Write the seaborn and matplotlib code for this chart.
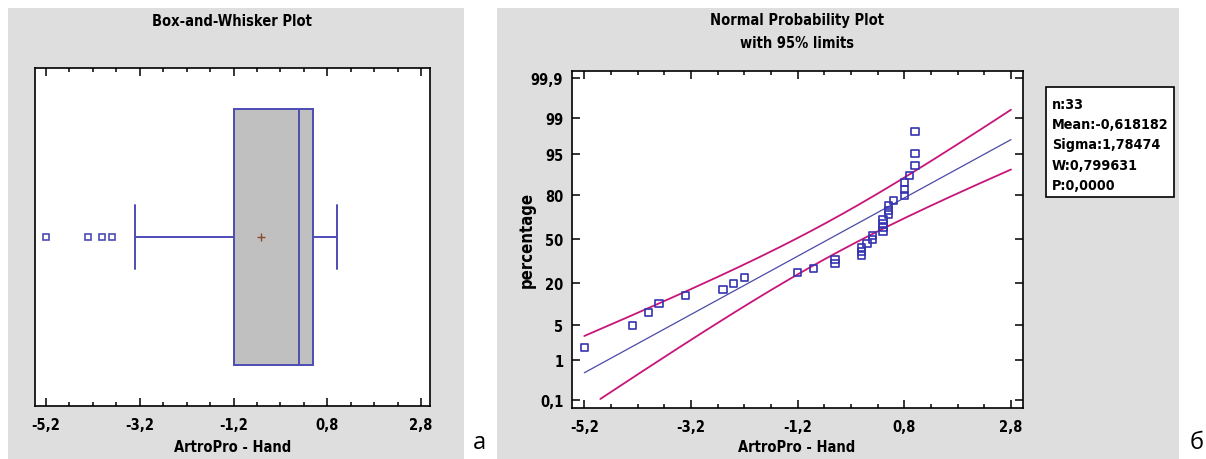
"""
Box-and-whisker plot and normal probability plot (95% limits)
for the ArtroPro - Hand sample, Statgraphics look.
"""

from statistics import NormalDist

import numpy as np
import matplotlib
matplotlib.use("Agg")
import matplotlib.pyplot as plt
from matplotlib import font_manager
from matplotlib.patches import Rectangle
from matplotlib.ticker import FixedLocator, FixedFormatter, NullLocator
import seaborn as sns

# ---- data ----------------------------------------------------------------
hand_values = [
    -5.2, -4.3, -4.0, -3.8, -3.3, -2.6, -2.4, -2.2, -1.2, -0.9, -0.5, -0.5,
    0.0, 0.0, 0.0, 0.1, 0.2, 0.2, 0.4, 0.4, 0.4, 0.4, 0.5, 0.5, 0.5, 0.6,
    0.8, 0.8, 0.8, 0.9, 1.0, 1.0, 1.0,
]
x_ticks = [-5.2, -3.2, -1.2, 0.8, 2.8]
x_tick_labels = ["-5,2", "-3,2", "-1,2", "0,8", "2,8"]
pct_ticks = [0.1, 1, 5, 20, 50, 80, 95, 99, 99.9]
pct_tick_labels = ["0,1", "1", "5", "20", "50", "80", "95", "99", "99,9"]
stats_lines = ["n:33", "Mean:-0,618182", "Sigma:1,78474", "W:0,799631", "P:0,0000"]

GRAY = "#dedede"
BOX_FILL = "#c0c0c0"
BLUE = "#4c4cb4"
PT_BLUE = "#3434b0"
FIT_BLUE = "#4a4aa8"
MAGENTA = "#c8157a"
BROWN = "#8b4a2a"

W, H = 1206, 460


def fx(px):
    return px / W


def fy(py):
    return 1 - py / H


_nd = NormalDist()
_ppf = np.vectorize(lambda p: _nd.inv_cdf(min(max(p, 1e-9), 1 - 1e-9)), otypes=[float])
_cdf = np.vectorize(_nd.cdf, otypes=[float])


def pct_to_z(p):
    return _ppf(np.asarray(p, dtype=float) / 100.0)


def z_to_pct(z):
    return _cdf(np.asarray(z, dtype=float)) * 100.0


sns.set_theme(style="white")

# Statgraphics uses a narrow bold sans; take a condensed face if one exists
main_font, stretch, scale = "Liberation Sans", "normal", 1.0
for f in font_manager.fontManager.ttflist:
    narrow_name = ("Narrow" in f.name or "Condensed" in f.name) and "Mono" not in f.name
    narrow_face = str(f.stretch) in ("condensed", "semi-condensed") and "Sans" in f.name \
        and "Mono" not in f.name and "CJK" not in f.name
    if narrow_name or narrow_face:
        main_font, scale = f.name, 1.0
        stretch = "condensed" if narrow_face and not narrow_name else "normal"
        if f.weight in ("bold", 700):
            break
else:
    scale = 0.95
FS = 10.5 * scale          # titles, ticks, axis labels
FS_STAT = 10.3 * scale     # stats box
FS_YLAB = 12 * scale       # "percentage"

plt.rcParams["font.family"] = [main_font, "DejaVu Sans"]
plt.rcParams["font.stretch"] = stretch
plt.rcParams["font.weight"] = "bold"
for key in ["text.color", "axes.labelcolor", "xtick.color", "ytick.color"]:
    plt.rcParams[key] = "black"

fig = plt.figure(figsize=(W / 100, H / 100), dpi=100)
fig.patch.set_facecolor("white")
for x0, x1 in [(8, 464), (497, 1179)]:
    fig.patches.append(Rectangle((fx(x0), 0), fx(x1) - fx(x0), (H - 9) / H,
                                 transform=fig.transFigure, facecolor=GRAY,
                                 edgecolor="none", zorder=-10))

minor_x = np.arange(-5.2, 2.81, 0.5)


def style_axis(ax):
    for sp in ax.spines.values():
        sp.set_visible(True)
        sp.set_color("black")
        sp.set_linewidth(1.2)
    ax.set_facecolor("white")
    ax.xaxis.set_major_locator(FixedLocator(x_ticks))
    ax.xaxis.set_major_formatter(FixedFormatter(x_tick_labels))
    ax.xaxis.set_minor_locator(FixedLocator(minor_x))
    ax.tick_params(axis="x", which="both", direction="in", top=True, bottom=True,
                   color="black", width=1.1, labelsize=FS, pad=8)
    ax.tick_params(axis="x", which="major", length=5.5)
    ax.tick_params(axis="x", which="minor", length=3)
    ax.set_xlabel("")
    ax.set_ylabel("")


# ---- left: box-and-whisker ------------------------------------------------
ax1 = fig.add_axes([fx(35), fy(407), fx(430) - fx(35), (407 - 69) / H])
sns.boxplot(
    x=hand_values, ax=ax1, orient="h", color=BOX_FILL, linecolor=BLUE,
    linewidth=1.4, width=0.8, saturation=1, showmeans=True, capwidths=0.2,
    meanprops=dict(marker="+", markeredgecolor=BROWN, markerfacecolor=BROWN,
                   markersize=6, markeredgewidth=1.0),
    flierprops=dict(marker="s", markerfacecolor="none", markeredgecolor=BLUE,
                    markersize=4.5, markeredgewidth=1.2),
)
ax1.set_xlim(-5.435, 2.992)
ax1.set_ylim(0.528, -0.528)
ax1.set_yticks([])
style_axis(ax1)

fig.text(fx(232), fy(22), "Box-and-Whisker Plot", ha="center", va="center",
         fontsize=FS, fontweight="bold")
fig.text(fx(233), fy(448), "ArtroPro - Hand", ha="center", va="center",
         fontsize=FS, fontweight="bold")

# ---- right: normal probability plot ---------------------------------------
ax2 = fig.add_axes([fx(571.7), fy(409.3), fx(1023) - fx(571.7), (409.3 - 71.7) / H])
ax2.set_yscale("function", functions=(pct_to_z, z_to_pct))

vals = np.sort(np.asarray(hand_values, dtype=float))
n = len(vals)
ranks = np.arange(1, n + 1)
plot_pos = (ranks - 0.375) / (n + 0.25) * 100
mean = vals.mean()
sd = vals.std(ddof=1)

grid = np.linspace(x_ticks[0], x_ticks[-1], 161)
z_fit = (grid - mean) / sd
half = 1.96 * np.sqrt(1 / n + z_fit ** 2 / (2 * n))
fit_pct = z_to_pct(z_fit)
upper_pct = z_to_pct(z_fit + half)
lower_pct = z_to_pct(z_fit - half)
lower_pct = np.where(lower_pct < pct_ticks[0], np.nan, lower_pct)

sns.lineplot(x=grid, y=fit_pct, ax=ax2, color=FIT_BLUE, linewidth=0.9,
             estimator=None, sort=False)
sns.lineplot(x=grid, y=upper_pct, ax=ax2, color=MAGENTA, linewidth=1.3,
             estimator=None, sort=False)
sns.lineplot(x=grid, y=lower_pct, ax=ax2, color=MAGENTA, linewidth=1.3,
             estimator=None, sort=False)
sns.scatterplot(x=vals, y=plot_pos, ax=ax2, marker="s", s=26,
                facecolor="none", edgecolor=PT_BLUE, linewidth=1.2, zorder=5)

ax2.set_xlim(-5.436, 3.025)
ax2.set_ylim(float(z_to_pct(-3.25)), float(z_to_pct(3.24)))
style_axis(ax2)
ax2.yaxis.set_major_locator(FixedLocator(pct_ticks))
ax2.yaxis.set_major_formatter(FixedFormatter(pct_tick_labels))
ax2.yaxis.set_minor_locator(NullLocator())
ax2.tick_params(axis="y", which="major", direction="in", left=True, right=True,
                length=6, width=1.1, color="black", labelsize=FS, pad=6)

fig.text(fx(797), fy(20), "Normal Probability Plot", ha="center", va="center",
         fontsize=FS, fontweight="bold")
fig.text(fx(797), fy(43), "with 95% limits", ha="center", va="center",
         fontsize=FS, fontweight="bold")
fig.text(fx(797), fy(448), "ArtroPro - Hand", ha="center", va="center",
         fontsize=FS, fontweight="bold")
fig.text(fx(527), fy(240), "percentage", ha="center", va="center",
         rotation=90, fontsize=FS_YLAB, fontweight="bold")

# stats box
fig.patches.append(Rectangle((fx(1046), fy(198)), fx(1174) - fx(1046), (198 - 88) / H,
                             transform=fig.transFigure, facecolor="white",
                             edgecolor="black", linewidth=1.2, zorder=1))
for i, line in enumerate(stats_lines):
    fig.text(fx(1052), fy(105 + i * 20.2), line, ha="left", va="center",
             fontsize=FS_STAT, fontweight="bold", zorder=2)

# panel letters
for px, letter in [(479, "а"), (1197, "б")]:
    fig.text(fx(px), fy(443), letter, ha="center", va="center", fontsize=17,
             fontweight="normal", stretch="normal", family=["Open Sans", "DejaVu Sans"])

fig.savefig("out.png", dpi=100)
